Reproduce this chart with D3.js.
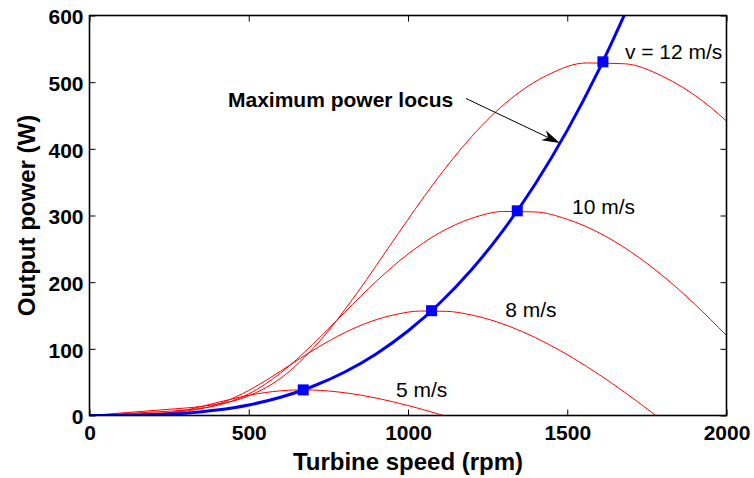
<!DOCTYPE html>
<html>
<head>
<meta charset="utf-8">
<script src="https://cdn.jsdelivr.net/npm/d3@7/dist/d3.min.js"></script>
<style>
  html, body { margin: 0; padding: 0; background: #fff; }
  svg { display: block; }
  text { font-family: "Liberation Sans", Arial, Helvetica, sans-serif; fill: #000; }
</style>
</head>
<body>
<svg id="chart" width="754" height="478"></svg>
<script>
// Turbine output power vs. rotor speed for several wind speeds,
// with the locus of maximum power points.

// v = 5 m/s
const rpm5 = [0, 50, 100, 150, 200, 250, 300, 350, 400, 450, 500, 550, 600, 650, 700, 750, 800, 850, 900, 950, 1000, 1050, 1100, 1125];
const power5 = [0, 0.3, 0.7, 1.0, 1.9, 4.0, 8.0, 13.3, 19.3, 25.1, 30.3, 34.3, 37.0, 38.3, 38.2, 36.8, 34.3, 30.7, 26.2, 20.9, 15.0, 8.5, 1.6, -2.0];

// v = 8 m/s
const rpm8 = [0, 80, 160, 240, 320, 400, 480, 560, 640, 720, 800, 880, 960, 1040, 1120, 1200, 1280, 1360, 1440, 1520, 1600, 1680, 1760, 1800];
const power8 = [0, 1.3, 2.7, 4.2, 7.7, 16.5, 32.6, 54.4, 79.0, 103.0, 124.0, 140.4, 151.4, 156.7, 156.3, 150.7, 140.3, 125.6, 107.2, 85.6, 61.4, 34.9, 6.6, -8.3];

// v = 10 m/s
const rpm10 = [0, 100, 200, 300, 400, 500, 600, 700, 800, 900, 1000, 1100, 1200, 1300, 1400, 1500, 1600, 1700, 1800, 1900, 2000];
const power10 = [0, 2.6, 5.2, 8.2, 15.0, 32.3, 63.7, 106.3, 154.2, 201.1, 242.2, 274.3, 295.8, 306.0, 305.3, 294.3, 274.0, 245.4, 209.4, 167.2, 120.0];

// v = 12 m/s
const rpm12 = [0, 120, 240, 360, 480, 600, 720, 840, 960, 1080, 1200, 1320, 1440, 1560, 1680, 1800, 1920, 2040];
const power12 = [0, 4.5, 9.0, 14.2, 25.9, 55.8, 110.1, 183.7, 266.5, 347.5, 418.5, 474.0, 511.1, 528.8, 527.6, 508.6, 473.5, 424.1];

// Maximum power locus
const locusRpm = [0, 100, 200, 300, 400, 500, 600, 700, 800, 900, 1000, 1100, 1200, 1300, 1400, 1500, 1600, 1700];
const locusPower = [0, 0.1, 1.0, 3.4, 8.1, 15.8, 27.4, 43.5, 64.9, 92.4, 126.7, 168.7, 219.0, 278.5, 347.7, 427.7, 519.2, 622.7];

// Peak of each curve
const peakRpm = [671, 1074, 1343, 1612];
const peakPower = [38.4, 157.2, 307.0, 530.5];

// Curve labels (anchored at their left edge, on the baseline)
const curveLabels = ["5 m/s", "8 m/s", "10 m/s", "v = 12 m/s"];
const labelRpm = [962, 1305, 1515, 1681];
const labelPower = [27.7, 147.7, 302, 534.8];

const xTicks = [0, 500, 1000, 1500, 2000];
const yTicks = [0, 100, 200, 300, 400, 500, 600];

const svg = d3.select("#chart");
const plotL = 89.5, plotR = 726.5, plotT = 15.5, plotB = 415.5;

const x = d3.scaleLinear().domain([0, 2000]).range([plotL, plotR]);
const y = d3.scaleLinear().domain([0, 600]).range([plotB, plotT]);

svg.append("defs").append("clipPath").attr("id", "plot-clip")
  .append("rect").attr("x", plotL).attr("y", plotT)
  .attr("width", plotR - plotL).attr("height", plotB - plotT);

const plot = svg.append("g").attr("clip-path", "url(#plot-clip)");

const line = d3.line()
  .x(d => x(d[0]))
  .y(d => y(d[1]))
  .curve(d3.curveMonotoneX);

const series = [
  [rpm5, power5],
  [rpm8, power8],
  [rpm10, power10],
  [rpm12, power12]
];

series.forEach(([r, p]) => {
  plot.append("path")
    .datum(r.map((v, i) => [v, p[i]]))
    .attr("fill", "none")
    .attr("stroke", "#ff0000")
    .attr("stroke-width", 1)
    .attr("d", line);
});

plot.append("path")
  .datum(locusRpm.map((v, i) => [v, locusPower[i]]))
  .attr("fill", "none")
  .attr("stroke", "#0000ff")
  .attr("stroke-width", 3)
  .attr("d", line);

const ms = 11;
plot.selectAll("rect.peak")
  .data(peakRpm.map((v, i) => [v, peakPower[i]]))
  .join("rect")
  .attr("class", "peak")
  .attr("x", d => x(d[0]) - ms / 2)
  .attr("y", d => y(d[1]) - ms / 2)
  .attr("width", ms)
  .attr("height", ms)
  .attr("fill", "#0000ff");

// Axes: ticks point into the plot on all four sides
const tickFont = g => g.selectAll("text")
  .style("font-size", "21px").style("font-weight", "bold")
  .style("font-family", "'Liberation Sans', Arial, sans-serif")
  .attr("fill", "#000");

svg.append("g")
  .attr("transform", `translate(0,${plotB})`)
  .call(d3.axisBottom(x).tickValues(xTicks).tickFormat(d3.format("d"))
    .tickSizeInner(-6).tickSizeOuter(0).tickPadding(10))
  .call(g => g.select(".domain").remove())
  .call(tickFont);

svg.append("g")
  .attr("transform", `translate(${plotL},0)`)
  .call(d3.axisLeft(y).tickValues(yTicks).tickFormat(d3.format("d"))
    .tickSizeInner(-6).tickSizeOuter(0).tickPadding(6))
  .call(g => g.select(".domain").remove())
  .call(tickFont)
  .call(g => g.selectAll("text").attr("dy", "0.4em"));

svg.append("g")
  .attr("transform", `translate(0,${plotT})`)
  .call(d3.axisTop(x).tickValues(xTicks).tickFormat("")
    .tickSizeInner(-6).tickSizeOuter(0))
  .call(g => g.select(".domain").remove());

svg.append("g")
  .attr("transform", `translate(${plotR},0)`)
  .call(d3.axisRight(y).tickValues(yTicks).tickFormat("")
    .tickSizeInner(-6).tickSizeOuter(0))
  .call(g => g.select(".domain").remove());

svg.selectAll(".tick line").attr("stroke", "#000").attr("stroke-width", 1);

svg.append("rect")
  .attr("x", plotL).attr("y", plotT)
  .attr("width", plotR - plotL).attr("height", plotB - plotT)
  .attr("fill", "none").attr("stroke", "#000").attr("stroke-width", 1.6);

// Axis titles
svg.append("text")
  .attr("x", (plotL + plotR) / 2).attr("y", 470)
  .attr("text-anchor", "middle")
  .style("font-size", "24px").style("font-weight", "bold")
  .text("Turbine speed (rpm)");

svg.append("text")
  .attr("transform", `translate(35,${(plotT + plotB) / 2}) rotate(-90)`)
  .attr("text-anchor", "middle")
  .style("font-size", "24px").style("font-weight", "bold")
  .text("Output power (W)");

// Wind speed labels
svg.selectAll("text.speed")
  .data(curveLabels)
  .join("text")
  .attr("class", "speed")
  .attr("x", (d, i) => x(labelRpm[i]))
  .attr("y", (d, i) => y(labelPower[i]))
  .attr("text-anchor", "start")
  .style("font-size", "21px")
  .text(d => d);

// Annotation with arrow pointing at the locus
const noteX = 228, noteY = 106.5;
svg.append("text")
  .attr("x", noteX).attr("y", noteY)
  .style("font-size", "21px").style("font-weight", "bold")
  .text("Maximum power locus");

const arrowRpm = 1477, arrowPower = 408.6;
const ax0 = 466, ay0 = 98.5;
const ax1 = x(arrowRpm), ay1 = y(arrowPower);
const adx = ax1 - ax0, ady = ay1 - ay0, alen = Math.hypot(adx, ady);
const ux = adx / alen, uy = ady / alen, nx = -uy, ny = ux;
const headL = 18, headW = 5.5;

svg.append("line")
  .attr("x1", ax0).attr("y1", ay0)
  .attr("x2", ax1 - ux * headL * 0.7).attr("y2", ay1 - uy * headL * 0.7)
  .attr("stroke", "#000").attr("stroke-width", 1);

svg.append("path")
  .attr("d", [
    [ax1, ay1],
    [ax1 - ux * headL + nx * headW, ay1 - uy * headL + ny * headW],
    [ax1 - ux * headL * 0.72, ay1 - uy * headL * 0.72],
    [ax1 - ux * headL - nx * headW, ay1 - uy * headL - ny * headW]
  ].map((p, i) => (i ? "L" : "M") + p[0].toFixed(1) + "," + p[1].toFixed(1)).join("") + "Z")
  .attr("fill", "#000");
</script>
</body>
</html>
